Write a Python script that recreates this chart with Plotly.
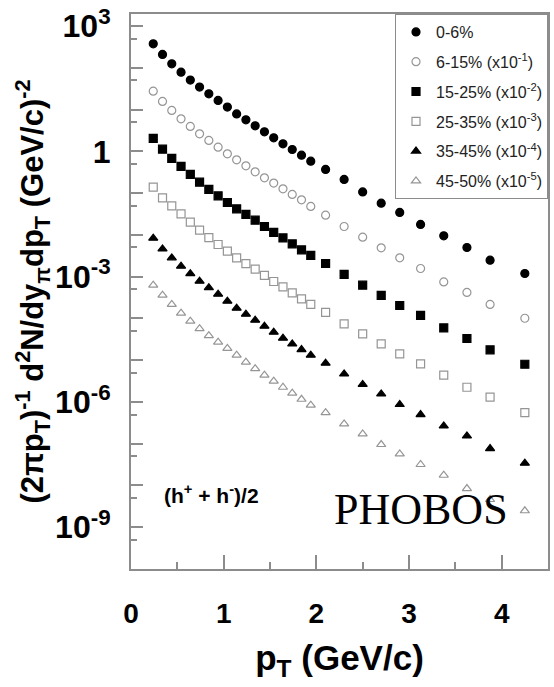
import plotly.graph_objects as go

# transverse momentum bin centres (GeV/c)
pt = [0.24, 0.34, 0.44, 0.54, 0.64, 0.74, 0.84, 0.94, 1.04, 1.14, 1.24, 1.34, 1.44, 1.54,
      1.64, 1.74, 1.84, 1.94, 2.1, 2.3, 2.5, 2.7, 2.9, 3.125, 3.375, 3.625, 3.875, 4.25]

# plotted (already scaled) invariant yields
c0_6 = [377, 210, 125, 79, 51, 34.6, 23.9, 16.6, 11.5, 7.9, 5.7, 4.1, 2.94, 2.11, 1.52,
        1.11, 0.81, 0.584, 0.37, 0.213, 0.107, 0.0575, 0.0345, 0.0178, 0.0095, 0.0050,
        0.00248, 0.00119]
c6_15 = [27.7, 15.7, 9.57, 6.03, 3.96, 2.63, 1.83, 1.26, 0.873, 0.628, 0.451, 0.324, 0.233,
         0.174, 0.127, 0.0931, 0.0692, 0.048, 0.0297, 0.0159, 0.00883, 0.0049, 0.00282,
         0.00157, 7.5e-4, 4.19e-4, 2.16e-4, 1.01e-4]
c15_25 = [2.04, 1.13, 0.678, 0.436, 0.281, 0.183, 0.123, 0.0861, 0.0598, 0.0421, 0.0309,
          0.0225, 0.0159, 0.01146, 0.00849, 0.00611, 0.00439, 0.00322, 0.00207, 0.00113,
          6.25e-4, 3.55e-4, 2.04e-4, 1.18e-4, 5.94e-5, 3.31e-5, 1.77e-5, 8.0e-6]
c25_35 = [0.139, 0.0771, 0.0497, 0.0319, 0.0202, 0.0130, 0.00859, 0.0059, 0.00408, 0.00282,
          0.00205, 0.00151, 0.00107, 7.67e-4, 5.70e-4, 4.09e-4, 2.94e-4, 2.16e-4, 1.39e-4,
          7.40e-5, 4.27e-5, 2.45e-5, 1.42e-5, 8.15e-6, 4.38e-6, 2.25e-6, 1.30e-6, 5.58e-7]
c35_45 = [0.00836, 0.00463, 0.00282, 0.00178, 0.00118, 7.80e-4, 5.46e-4, 3.81e-4, 2.59e-4,
          1.76e-4, 1.26e-4, 9.08e-5, 6.52e-5, 4.69e-5, 3.37e-5, 2.45e-5, 1.80e-5, 1.32e-5,
          8.47e-6, 4.70e-6, 2.62e-6, 1.56e-6, 8.69e-7, 5.00e-7, 2.67e-7, 1.54e-7, 7.67e-8,
          3.41e-8]
c45_50 = [6.25e-4, 3.61e-4, 2.16e-4, 1.34e-4, 8.59e-5, 5.68e-5, 3.86e-5, 2.70e-5, 1.91e-5,
          1.32e-5, 8.95e-6, 6.25e-6, 4.38e-6, 3.14e-6, 2.25e-6, 1.62e-6, 1.16e-6, 8.36e-7,
          5.53e-7, 2.98e-7, 1.72e-7, 9.57e-8, 5.70e-8, 3.18e-8, 1.76e-8, 8.45e-9, 4.61e-9,
          2.48e-9]

series_names = ["0-6%", "6-15% (x10<sup>-1</sup>)", "15-25% (x10<sup>-2</sup>)",
                "25-35% (x10<sup>-3</sup>)", "35-45% (x10<sup>-4</sup>)",
                "45-50% (x10<sup>-5</sup>)"]
series_values = [c0_6, c6_15, c15_25, c25_35, c35_45, c45_50]
symbols = ["circle", "circle-open", "square", "square-open", "triangle-up", "triangle-up-open"]
colors = ["black", "#959595", "black", "#959595", "black", "#959595"]
sizes = [8, 8, 8, 8, 8, 8]

y_major = [10.0 ** k for k in range(-10, 4)]
y_labels = {3: "10<sup>3</sup>", 0: "1", -3: "10<sup>-3</sup>", -6: "10<sup>-6</sup>",
            -9: "10<sup>-9</sup>"}
y_text = [y_labels.get(k, "") for k in range(-10, 4)]
y_minor = [5 * 10.0 ** k for k in range(-10, 3)]

fig = go.Figure()
for i, (nm, vals) in enumerate(zip(series_names, series_values)):
    fig.add_trace(go.Scatter(
        x=pt, y=vals, mode="markers", name=nm, legendgroup=f"g{i}",
        marker=dict(symbol=symbols[i], size=sizes[i], color=colors[i],
                    line=dict(width=1.2, color=colors[i])),
    ))

axis_grey = "#8c8c8c"
fig.update_layout(
    width=554, height=687,
    margin=dict(l=131, r=4, t=13, b=118),
    paper_bgcolor="white", plot_bgcolor="white",
    font=dict(family="Liberation Sans, Arial, sans-serif", color="black"),
    showlegend=True,
    legend=dict(x=1, y=1, xanchor="right", yanchor="top",
                bordercolor=axis_grey, borderwidth=1, bgcolor="white",
                font=dict(size=16, color="#222"), tracegroupgap=6,
                itemsizing="trace"),
    xaxis=dict(range=[0, 4.5], showline=True, linecolor=axis_grey, linewidth=2,
               mirror=True, ticks="inside", ticklen=14, tickwidth=1.5, tickcolor=axis_grey,
               tickvals=[0, 1, 2, 3, 4], showgrid=False, zeroline=False,
               tickfont=dict(size=28, weight="bold"), ticklabelstandoff=18,
               minor=dict(tickvals=[0.5, 1.5, 2.5, 3.5], ticks="inside", ticklen=7,
                          tickcolor=axis_grey, tickwidth=1.5),
               title=dict(text="p<sub>T</sub> (GeV/c)", font=dict(size=35, weight="bold"),
                          standoff=18)),
    yaxis=dict(type="log", range=[-10.0, 3.29], showline=True, linecolor=axis_grey,
               linewidth=2, mirror=True, ticks="inside", ticklen=12, tickwidth=1.5,
               tickcolor=axis_grey, tickvals=y_major, ticktext=y_text, showgrid=False,
               zeroline=False, tickfont=dict(size=32, weight="bold"), ticklabelstandoff=12,
               minor=dict(tickvals=y_minor, ticks="inside", ticklen=6, tickcolor=axis_grey,
                          tickwidth=1.5),
               title=dict(text="(2\u03c0p<sub>T</sub>)<sup>-1</sup> d<sup>2</sup>N/dy<sub>\u03c0</sub>dp<sub>T</sub> (GeV/c)<sup>-2</sup>",
                          font=dict(size=31, weight="bold"), standoff=2)),
    annotations=[
        dict(text="(h<sup>+</sup> + h<sup>-</sup>)/2", x=0.33, y=-8.2, xref="x", yref="y",
             showarrow=False, xanchor="left", yanchor="middle",
             font=dict(size=21, weight="bold", color="black")),
        dict(text="PHOBOS", x=2.17, y=-8.57, xref="x", yref="y", showarrow=False,
             xanchor="left", yanchor="middle",
             font=dict(size=44, family="Liberation Serif, Times New Roman, serif",
                       color="black")),
    ],
)

fig.write_html("out.html")
